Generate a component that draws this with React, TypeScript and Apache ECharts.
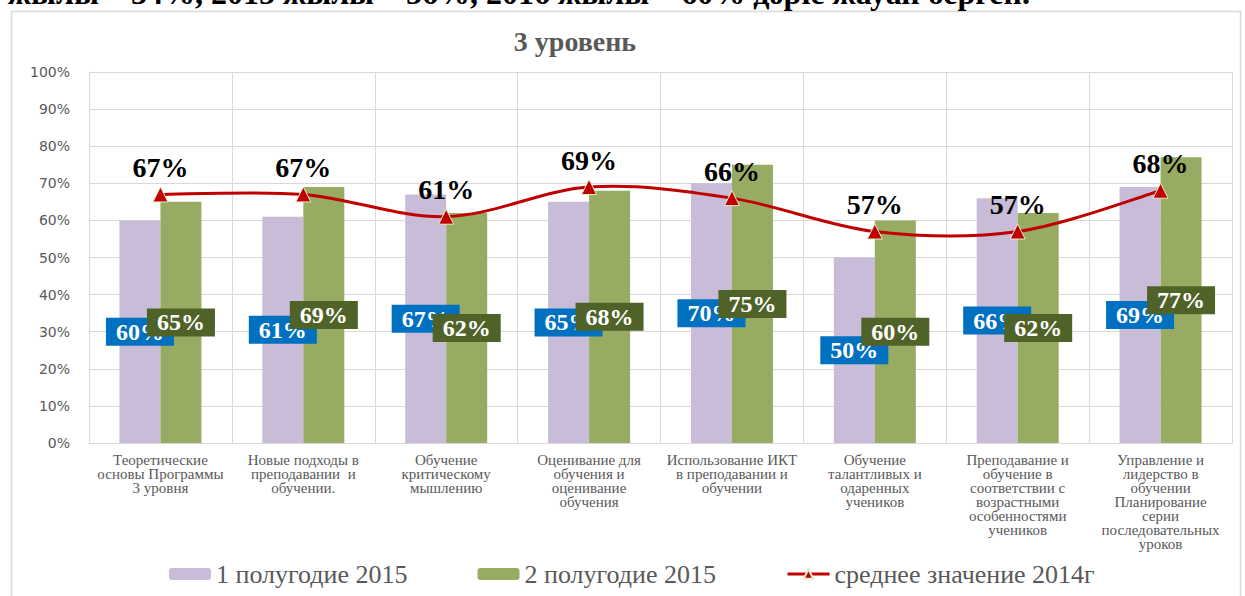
import React, { useEffect, useRef } from "react";
import * as echarts from "echarts";

const categories = [
  "Теоретические\nосновы Программы\n3 уровня",
  "Новые подходы в\nпреподавании  и\nобучении.",
  "Обучение\nкритическому\nмышлению",
  "Оценивание для\nобучения и\nоценивание\nобучения",
  "Использование ИКТ\nв преподавании и\nобучении",
  "Обучение\nталантливых и\nодаренных\nучеников",
  "Преподавание и\nобучение в\nсоответствии с\nвозрастными\nособенностями\nучеников",
  "Управление и\nлидерство в\nобучении\nПланирование\nсерии\nпоследовательных\nуроков",
];

const half1 = [60, 61, 67, 65, 70, 50, 66, 69];
const half2 = [65, 69, 62, 68, 75, 60, 62, 77];
const avg2014 = [67, 67, 61, 69, 66, 57, 57, 68];

const seriesNames = ["1 полугодие 2015", "2 полугодие 2015", "среднее значение 2014г"];
const titleText = "3 уровень";
const topText = "жылы – 34%, 2015 жылы – 56%, 2016 жылы – 60% дәріс жауап берген.";

const SERIF = "Liberation Serif, Times New Roman, serif";
const SANS = "DejaVu Sans, Verdana, sans-serif";
const RED = "#c00000";

export default function App() {
  const ref = useRef<HTMLDivElement>(null);
  useEffect(() => {
    document.body.style.margin = "0";
    const chart = echarts.init(ref.current!, null, { renderer: "svg" });
    const barLabel = (bg: string) => ({
      show: true,
      position: "inside",
      formatter: "{c}%",
      color: "#ffffff",
      textBorderWidth: 0,
      fontFamily: SERIF,
      fontWeight: "bold",
      fontSize: 24,
      lineHeight: 25,
      backgroundColor: bg,
      padding: [2, 10, 1, 10],
    });
    chart.setOption({
      animation: false,
      backgroundColor: "#ffffff",
      graphic: [
        {
          type: "rect",
          left: 9,
          top: 9,
          shape: { width: 1229, height: 640 },
          style: { fill: "none", stroke: "#d9d9d9", lineWidth: 1.5 },
          silent: true,
          z: -1,
        },
        {
          type: "text",
          x: 1030,
          y: -7,
          style: {
            text: topText,
            fontFamily: SERIF,
            fontWeight: "bold",
            fontSize: 32,
            fill: "#000",
            align: "right",
            verticalAlign: "middle",
          },
          silent: true,
        },
      ],
      title: {
        text: titleText,
        left: 570,
        textAlign: "center",
        top: 22,
        textStyle: { fontFamily: SERIF, fontWeight: "bold", fontSize: 28, color: "#595959" },
      },
      grid: { left: 89, right: 13, top: 72, bottom: 153 },
      legend: {
        bottom: 4,
        left: 164,
        itemWidth: 42,
        itemHeight: 12,
        itemGap: 70,
        textStyle: { fontFamily: SERIF, fontSize: 26, color: "#595959" },
        lineStyle: { opacity: 1, width: 3, color: RED },
        data: seriesNames,
      },
      xAxis: {
        type: "category",
        data: categories,
        axisLine: { show: true, lineStyle: { color: "#d9d9d9" } },
        axisTick: { show: false },
        splitLine: { show: true, lineStyle: { color: "#d9d9d9" } },
        axisLabel: {
          interval: 0,
          color: "#595959",
          fontFamily: SERIF,
          fontSize: 15,
          lineHeight: 14,
          margin: 10,
          align: "center",
        },
      },
      yAxis: {
        type: "value",
        min: 0,
        max: 100,
        interval: 10,
        axisLine: { show: true, lineStyle: { color: "#d9d9d9" } },
        axisTick: { show: false },
        splitLine: { show: true, lineStyle: { color: "#d9d9d9" } },
        axisLabel: {
          formatter: "{value}%",
          color: "#595959",
          fontFamily: SANS,
          fontSize: 14,
          margin: 19,
        },
      },
      series: [
        {
          name: seriesNames[0],
          type: "bar",
          data: half1,
          barWidth: 41,
          barGap: "0%",
          itemStyle: { color: "#c9bcd8" },
          label: barLabel("#0070c0"),
        },
        {
          name: seriesNames[1],
          type: "bar",
          data: half2,
          barWidth: 41,
          itemStyle: { color: "#97ab63" },
          label: barLabel("#4f6228"),
        },
        {
          name: "curve",
          type: "custom",
          data: [[0, avg2014[0]]],
          silent: true,
          z: 4,
          renderItem: (params: any, api: any) => {
            if (params.dataIndex !== 0) return null;
            const pts = avg2014.map((v, i) => api.coord([i, v]));
            let d = `M${pts[0][0]},${pts[0][1]}`;
            for (let i = 0; i < pts.length - 1; i++) {
              const p0 = pts[i - 1] || pts[i];
              const p1 = pts[i];
              const p2 = pts[i + 1];
              const p3 = pts[i + 2] || pts[i + 1];
              const c1x = p1[0] + (p2[0] - p0[0]) / 6;
              const c1y = p1[1] + (p2[1] - p0[1]) / 6;
              const c2x = p2[0] - (p3[0] - p1[0]) / 6;
              const c2y = p2[1] - (p3[1] - p1[1]) / 6;
              d += ` C${c1x},${c1y} ${c2x},${c2y} ${p2[0]},${p2[1]}`;
            }
            return {
              type: "path",
              shape: { pathData: d },
              style: { fill: "none", stroke: RED, lineWidth: 3 },
            };
          },
        },
        {
          name: seriesNames[2],
          type: "line",
          data: avg2014,
          symbol: "triangle",
          symbolSize: 15,
          lineStyle: { color: RED, width: 3, opacity: 0 },
          itemStyle: { color: RED, borderColor: "#e6edc8", borderWidth: 1 },
          label: {
            show: true,
            position: "top",
            distance: 5,
            formatter: "{c}%",
            color: "#000000",
            textBorderWidth: 0,
            fontFamily: SERIF,
            fontWeight: "bold",
            fontSize: 28,
          },
          z: 5,
        },
      ],
    });
    return () => chart.dispose();
  }, []);
  return (
    <div
      ref={ref}
      style={{ position: "fixed", left: 0, top: 0, width: 1245, height: 596 }}
    />
  );
}
